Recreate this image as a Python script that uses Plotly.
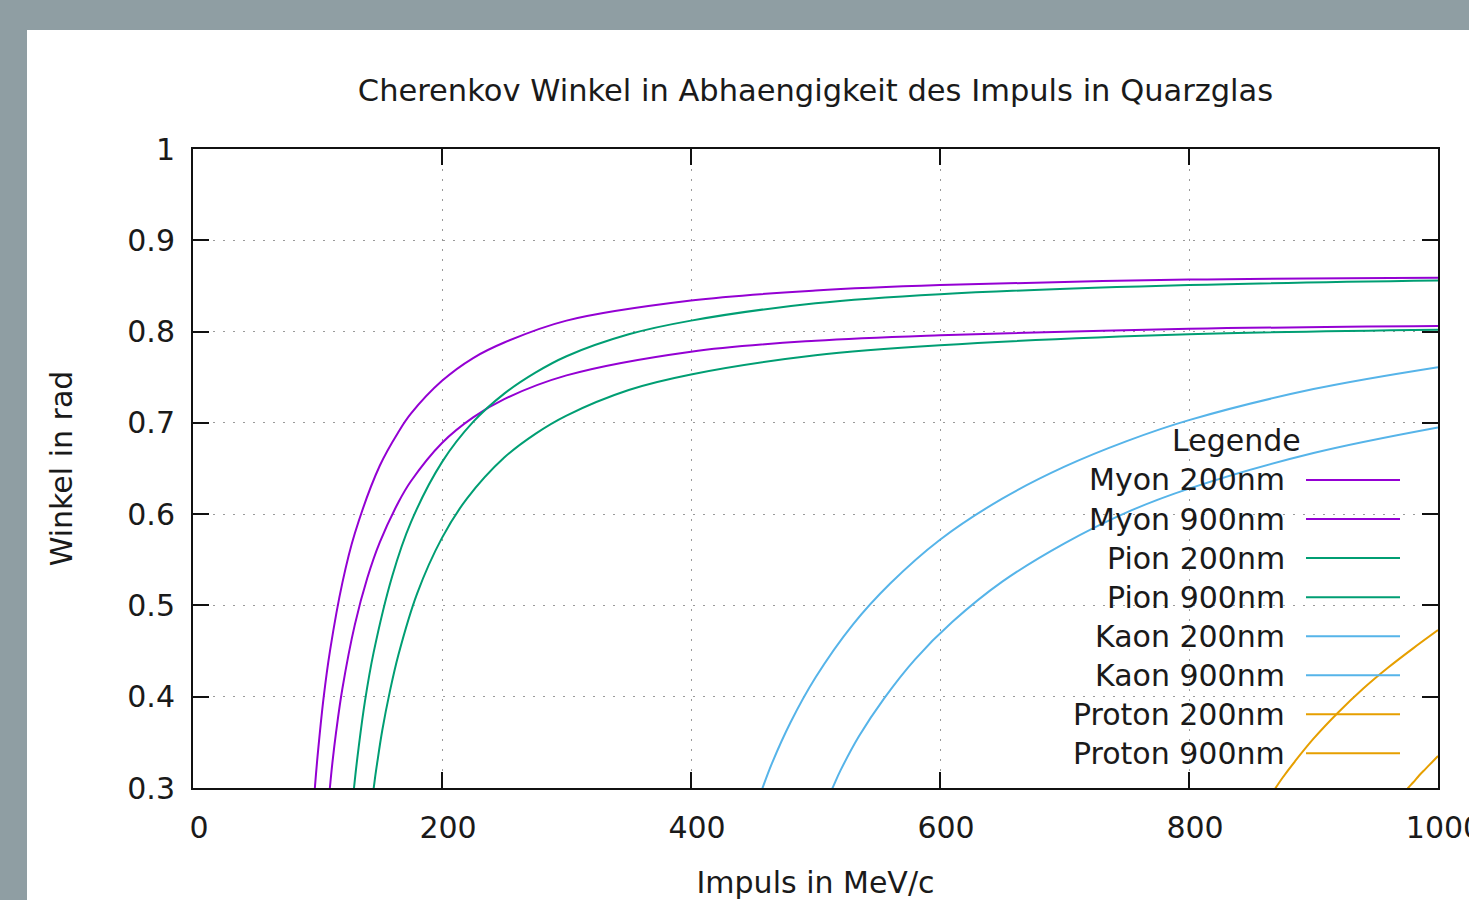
import plotly.graph_objects as go

# ---------------- data ----------------
# momentum p in MeV/c, Cherenkov angle in rad
myon_200_p = [97, 98, 100, 105, 110, 120, 130, 150, 165, 175, 200, 225, 250, 300, 400, 500, 600, 800, 1000]
myon_200_theta = [0.283, 0.302, 0.334, 0.400, 0.450, 0.525, 0.579, 0.653, 0.690, 0.710, 0.746, 0.771, 0.788, 0.812, 0.834, 0.845, 0.851, 0.857, 0.859]
myon_900_p = [109, 110, 112, 115, 120, 130, 140, 150, 165, 175, 200, 225, 250, 300, 400, 500, 600, 800, 1000]
myon_900_theta = [0.287, 0.301, 0.328, 0.362, 0.409, 0.479, 0.530, 0.569, 0.613, 0.636, 0.678, 0.706, 0.726, 0.752, 0.778, 0.790, 0.796, 0.803, 0.806]
pion_200_p = [128, 130, 133, 138, 145, 160, 175, 200, 225, 250, 275, 300, 350, 400, 500, 600, 800, 1000]
pion_200_theta = [0.281, 0.309, 0.344, 0.394, 0.448, 0.532, 0.591, 0.657, 0.701, 0.732, 0.755, 0.773, 0.797, 0.812, 0.831, 0.841, 0.851, 0.856]
pion_900_p = [144, 146, 148, 152, 158, 165, 180, 200, 220, 250, 275, 300, 350, 400, 500, 600, 800, 1000]
pion_900_theta = [0.287, 0.309, 0.328, 0.363, 0.405, 0.446, 0.513, 0.574, 0.617, 0.662, 0.688, 0.708, 0.736, 0.753, 0.774, 0.785, 0.797, 0.802]
kaon_200_p = [452, 458, 465, 480, 500, 530, 560, 600, 650, 700, 750, 800, 900, 1000]
kaon_200_theta = [0.278, 0.302, 0.327, 0.372, 0.421, 0.479, 0.524, 0.572, 0.617, 0.652, 0.680, 0.703, 0.737, 0.761]
kaon_900_p = [508, 514, 520, 535, 555, 580, 610, 650, 700, 750, 800, 900, 1000]
kaon_900_theta = [0.283, 0.301, 0.319, 0.357, 0.398, 0.441, 0.482, 0.526, 0.568, 0.602, 0.628, 0.667, 0.695]
proton_200_p = [860, 870, 875, 885, 900, 920, 940, 960, 980, 1000]
proton_200_theta = [0.280, 0.301, 0.311, 0.329, 0.354, 0.383, 0.409, 0.432, 0.453, 0.473]
proton_900_p = [970, 976, 980, 985, 990, 995, 1000]
proton_900_theta = [0.290, 0.300, 0.306, 0.314, 0.321, 0.328, 0.335]

series_names = ["Myon 200nm", "Myon 900nm", "Pion 200nm", "Pion 900nm",
                "Kaon 200nm", "Kaon 900nm", "Proton 200nm", "Proton 900nm"]
series_colors = ["#9400d3", "#9400d3", "#009e73", "#009e73",
                 "#56b4e9", "#56b4e9", "#e69f00", "#e69f00"]
series_x = [myon_200_p, myon_900_p, pion_200_p, pion_900_p,
            kaon_200_p, kaon_900_p, proton_200_p, proton_900_p]
series_y = [myon_200_theta, myon_900_theta, pion_200_theta, pion_900_theta,
            kaon_200_theta, kaon_900_theta, proton_200_theta, proton_900_theta]

x_tickvals = [0, 200, 400, 600, 800, 1000]
x_ticktext = ["0", "200", "400", "600", "800", "1000"]
y_tickvals = [0.3, 0.4, 0.5, 0.6, 0.7, 0.8, 0.9, 1.0]
y_ticktext = ["0.3", "0.4", "0.5", "0.6", "0.7", "0.8", "0.9", "1"]

title_text = "Cherenkov Winkel in Abhaengigkeit des Impuls in Quarzglas"
x_title = "Impuls in MeV/c"
y_title = "Winkel in rad"
legend_title = "Legende"

# ---------------- layout geometry (pixels) ----------------
W, H = 1469, 900
PL, PR, PT, PB = 193, 1438, 149, 788  # plot area edges
FONT = "DejaVu Sans, Verdana, sans-serif"
FS = 30
TXT = "#1a1a1a"


def px_x(px):
    return (px - PL) / (PR - PL)


def px_y(py):
    return (PB - py) / (PB - PT)


fig = go.Figure()
for name, col, xs, ys in zip(series_names, series_colors, series_x, series_y):
    fig.add_trace(go.Scatter(x=xs, y=ys, mode="lines", name=name,
                             line=dict(color=col, width=2, shape="spline"),
                             showlegend=False, hoverinfo="skip"))

shapes = []
# white page panel on grey background
shapes.append(dict(type="rect", xref="paper", yref="paper", layer="below",
                   x0=px_x(27), x1=px_x(W + 5), y0=px_y(H + 5), y1=px_y(30),
                   fillcolor="white", line=dict(width=0)))
# key box (hides grid lines behind the key)
shapes.append(dict(type="rect", xref="paper", yref="paper", layer="between",
                   x0=px_x(1047), x1=1, y0=0, y1=px_y(414),
                   fillcolor="white", line=dict(width=0)))

annotations = []
key_text_right = 1287
key_line_x0, key_line_x1 = 1306, 1400
key_row0, key_step = 480, 39.05
annotations.append(dict(text=legend_title, xref="paper", yref="paper",
                        x=px_x(1236), y=px_y(440), xanchor="center", yanchor="middle",
                        showarrow=False, font=dict(family=FONT, size=FS, color=TXT)))
for i, (name, col) in enumerate(zip(series_names, series_colors)):
    yy = key_row0 + i * key_step
    annotations.append(dict(text=name, xref="paper", yref="paper",
                            x=px_x(key_text_right), y=px_y(yy), xanchor="right", yanchor="middle",
                            showarrow=False, font=dict(family=FONT, size=FS, color=TXT)))
    shapes.append(dict(type="line", xref="paper", yref="paper", layer="above",
                       x0=px_x(key_line_x0), x1=px_x(key_line_x1), y0=px_y(yy), y1=px_y(yy),
                       line=dict(color=col, width=2)))

axis_common = dict(
    showline=True, linecolor="#111", linewidth=2, mirror="ticks",
    ticks="inside", ticklen=16, tickwidth=2, tickcolor="#111",
    showgrid=True, gridcolor="#9a9a9a", gridwidth=1, griddash="2px,8px",
    zeroline=False, ticklabeloverflow="allow", automargin=False,
    tickfont=dict(family=FONT, size=FS, color=TXT),
)

fig.update_layout(
    width=W, height=H, autosize=False,
    margin=dict(l=PL, r=W - PR, t=PT, b=H - PB, pad=0, autoexpand=False),
    paper_bgcolor="#8f9ea3", plot_bgcolor="white",
    title=dict(text=title_text, x=0.5, xref="paper", y=1 - 90 / H, yref="container",
               xanchor="center", yanchor="middle", automargin=False,
               font=dict(family=FONT, size=30.5, color=TXT)),
    xaxis=dict(range=[0, 1000], tickvals=x_tickvals, ticktext=x_ticktext,
               ticklabelshift=6, ticklabelstandoff=12,
               title=dict(text=x_title, standoff=38, font=dict(family=FONT, size=FS, color=TXT)),
               **axis_common),
    yaxis=dict(range=[0.3, 1.0], tickvals=y_tickvals, ticktext=y_ticktext,
               ticklabelstandoff=10,
               title=dict(text=y_title, standoff=46, font=dict(family=FONT, size=FS, color=TXT)),
               **axis_common),
    shapes=shapes, annotations=annotations,
)

fig.write_html("out.html", config={"displayModeBar": False},
               post_script="document.body.style.margin='0';document.body.style.overflow='hidden';")
